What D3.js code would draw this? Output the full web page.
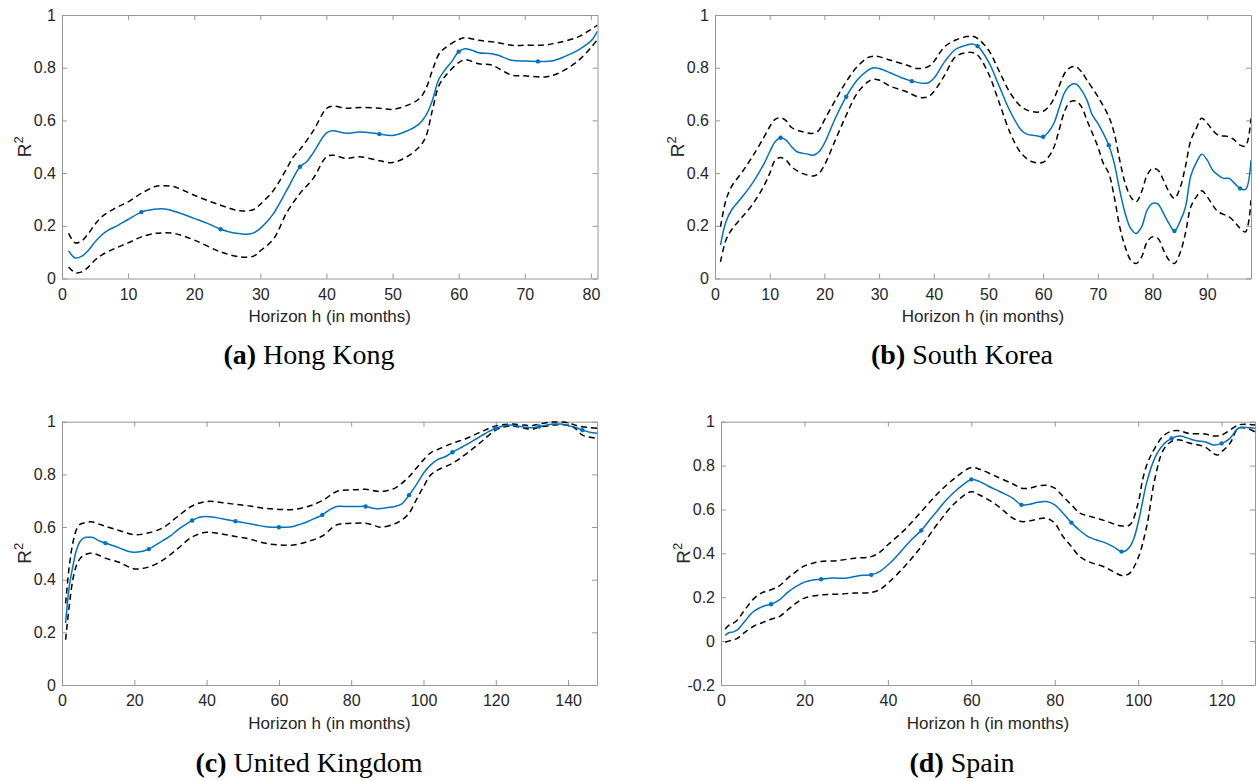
<!DOCTYPE html>
<html>
<head>
<meta charset="utf-8">
<script src="https://cdn.jsdelivr.net/npm/d3@7"></script>
<style>
  html, body { margin: 0; padding: 0; background: #ffffff; }
  svg { display: block; }
</style>
</head>
<body>
<svg id="chart" width="1257" height="781"></svg>
<script>
// ---------------- DATA ----------------
// (a) Hong Kong
const hongKongMeanH = [1,2,3,4,5,6,7,8,10,12,14,15,16,18,20,22,24,26,27,28,29,30,31,32,34,36,37,38,40,41,42,43,45,47,48,50,52,54,55,56,57,58,59,60,61,62,63,65,66,68,70,72,74,76,78,80,81];
const hongKongMean  = [0.105,0.078,0.085,0.107,0.139,0.165,0.184,0.196,0.224,0.252,0.263,0.265,0.262,0.247,0.228,0.209,0.187,0.173,0.170,0.168,0.173,0.190,0.215,0.247,0.335,0.424,0.443,0.477,0.553,0.561,0.556,0.551,0.556,0.552,0.548,0.543,0.558,0.586,0.617,0.674,0.756,0.794,0.825,0.861,0.872,0.866,0.857,0.853,0.847,0.828,0.825,0.824,0.825,0.842,0.866,0.901,0.939];
const hongKongUpperH = [1,2,3,4,5,6,8,10,12,14,15,17,20,24,27,29,30,32,34,35,36,38,40,41,43,45,48,50,52,54,55,56,57,58,60,61,63,66,68,70,73,75,78,80,81];
const hongKongUpper  = [0.171,0.135,0.143,0.171,0.206,0.234,0.266,0.291,0.323,0.348,0.352,0.348,0.316,0.278,0.257,0.262,0.282,0.335,0.418,0.462,0.490,0.560,0.645,0.654,0.646,0.649,0.646,0.642,0.655,0.681,0.718,0.788,0.851,0.876,0.907,0.914,0.904,0.895,0.885,0.885,0.886,0.895,0.916,0.945,0.962];
const hongKongLowerH = [1,2,3,4,5,6,8,10,12,14,15,17,20,24,27,29,30,32,34,36,38,40,41,43,45,48,50,52,54,55,56,57,58,60,61,63,65,68,70,73,75,78,80,81];
const hongKongLower  = [0.044,0.022,0.025,0.044,0.070,0.089,0.114,0.135,0.158,0.171,0.173,0.171,0.146,0.101,0.082,0.085,0.105,0.150,0.250,0.323,0.380,0.462,0.468,0.456,0.462,0.447,0.440,0.460,0.498,0.536,0.636,0.731,0.769,0.819,0.830,0.815,0.810,0.772,0.769,0.765,0.778,0.825,0.876,0.907];

// (b) South Korea
const southKoreaMeanH = [1,2,3,5,7,9,10,11,12,13,14,15,17,18,19,20,22,24,26,28,29,30,32,34,36,38,39,40,42,44,46,47,48,50,52,54,56,57,59,60,61,62,63,64,65,66,67,68,69,70,71,72,73,74,75,76,77,78,79,80,81,82,83,84,85,86,87,88,89,90,91,92,93,94,95,96,97,98];
const southKoreaMean  = [0.127,0.215,0.259,0.310,0.367,0.437,0.481,0.519,0.534,0.525,0.500,0.481,0.472,0.468,0.481,0.513,0.608,0.690,0.753,0.791,0.800,0.797,0.781,0.763,0.749,0.741,0.743,0.759,0.823,0.870,0.886,0.890,0.882,0.823,0.728,0.633,0.563,0.548,0.541,0.538,0.557,0.591,0.652,0.709,0.734,0.738,0.715,0.677,0.620,0.589,0.551,0.506,0.437,0.335,0.247,0.190,0.171,0.196,0.259,0.285,0.282,0.247,0.209,0.180,0.215,0.270,0.390,0.440,0.472,0.449,0.411,0.392,0.380,0.380,0.361,0.342,0.338,0.449];
const southKoreaUpperH = [1,2,3,5,7,9,10,11,12,13,14,16,18,19,20,22,24,26,28,29,30,32,35,37,39,40,42,44,46,47,48,50,52,54,56,58,60,61,62,63,64,65,66,67,68,70,72,73,74,75,76,77,78,79,80,81,82,83,84,85,86,87,88,89,90,91,92,94,95,96,97,98];
const southKoreaUpper  = [0.196,0.297,0.348,0.405,0.468,0.538,0.576,0.604,0.610,0.599,0.573,0.557,0.551,0.563,0.601,0.677,0.747,0.804,0.839,0.844,0.842,0.829,0.810,0.797,0.804,0.823,0.880,0.905,0.918,0.920,0.911,0.867,0.785,0.703,0.652,0.633,0.635,0.652,0.684,0.734,0.781,0.801,0.804,0.785,0.753,0.690,0.614,0.551,0.449,0.361,0.310,0.291,0.329,0.392,0.418,0.411,0.373,0.329,0.304,0.342,0.424,0.525,0.570,0.608,0.589,0.563,0.544,0.538,0.525,0.506,0.503,0.608];
const southKoreaLowerH = [1,2,3,5,7,9,10,11,12,13,14,16,18,19,20,22,24,26,28,29,30,32,35,37,38,39,40,42,44,46,47,48,50,52,54,56,58,60,61,62,63,64,65,66,67,68,70,71,72,73,74,75,76,77,78,79,80,81,82,83,84,85,86,87,88,89,90,91,92,94,95,96,97,98];
const southKoreaLower  = [0.063,0.146,0.184,0.234,0.285,0.354,0.399,0.449,0.459,0.449,0.424,0.399,0.389,0.399,0.430,0.525,0.620,0.703,0.747,0.756,0.753,0.730,0.709,0.690,0.686,0.690,0.709,0.772,0.842,0.857,0.858,0.848,0.778,0.665,0.551,0.475,0.443,0.441,0.462,0.500,0.570,0.639,0.671,0.673,0.652,0.601,0.500,0.437,0.399,0.310,0.196,0.120,0.070,0.057,0.082,0.139,0.158,0.152,0.108,0.070,0.057,0.095,0.171,0.272,0.310,0.333,0.310,0.278,0.253,0.234,0.215,0.190,0.177,0.297];

// (c) United Kingdom
const ukMeanH = [1,2,3,4,5,6,7,8,9,10,12,14,16,18,20,22,24,26,28,30,32,34,36,38,40,42,44,46,48,50,52,54,56,58,60,62,64,66,68,70,72,74,76,78,80,82,84,86,87,88,90,92,94,96,98,100,102,104,106,108,110,112,114,116,118,120,122,124,126,128,130,132,134,136,138,140,142,144,146,148];
const ukMean  = [0.235,0.374,0.450,0.513,0.545,0.558,0.561,0.561,0.558,0.549,0.539,0.530,0.520,0.509,0.504,0.507,0.516,0.532,0.549,0.566,0.589,0.608,0.625,0.637,0.640,0.637,0.632,0.627,0.622,0.617,0.612,0.607,0.602,0.599,0.599,0.599,0.602,0.611,0.621,0.633,0.646,0.665,0.678,0.678,0.678,0.678,0.678,0.671,0.669,0.670,0.674,0.678,0.688,0.721,0.760,0.804,0.836,0.857,0.867,0.884,0.899,0.914,0.930,0.946,0.962,0.975,0.984,0.987,0.984,0.979,0.977,0.982,0.987,0.991,0.991,0.985,0.979,0.968,0.960,0.956];
const ukUpperH = [1,2,3,4,5,6,8,10,12,16,20,24,28,32,36,40,44,48,52,56,60,64,68,72,76,80,84,88,92,94,96,98,100,102,104,108,112,116,120,124,128,130,132,136,140,142,144,148];
const ukUpper  = [0.310,0.450,0.540,0.590,0.610,0.615,0.620,0.612,0.603,0.586,0.571,0.578,0.598,0.640,0.680,0.697,0.693,0.686,0.680,0.671,0.667,0.667,0.678,0.700,0.735,0.741,0.743,0.735,0.747,0.766,0.791,0.823,0.855,0.882,0.895,0.918,0.937,0.962,0.984,0.991,0.987,0.985,0.991,0.999,0.996,0.987,0.981,0.975];
const ukLowerH = [1,2,3,4,5,6,8,10,12,16,20,24,28,32,36,40,44,48,52,56,60,64,68,72,76,80,84,86,88,92,94,96,98,100,102,104,108,112,116,120,124,128,130,132,136,140,142,144,148];
const ukLower  = [0.172,0.300,0.400,0.455,0.480,0.492,0.500,0.494,0.482,0.465,0.441,0.448,0.475,0.518,0.562,0.580,0.574,0.564,0.554,0.539,0.532,0.532,0.545,0.566,0.608,0.614,0.614,0.608,0.599,0.612,0.627,0.652,0.703,0.753,0.798,0.817,0.842,0.880,0.924,0.968,0.984,0.975,0.971,0.979,0.987,0.987,0.975,0.949,0.937];

// (d) Spain
const spainMeanH = [1,2,3,4,5,6,7,8,10,12,14,16,18,20,22,24,26,28,30,32,34,36,38,40,42,44,46,48,50,52,54,56,58,60,62,64,66,68,70,72,74,76,78,80,82,84,86,88,90,92,94,96,97,98,99,100,101,102,104,106,108,110,112,114,116,118,120,122,124,126,128];
const spainMean  = [0.026,0.039,0.042,0.052,0.074,0.097,0.120,0.138,0.158,0.168,0.188,0.222,0.249,0.269,0.279,0.282,0.287,0.287,0.287,0.294,0.300,0.302,0.317,0.347,0.385,0.428,0.469,0.504,0.552,0.598,0.643,0.681,0.712,0.737,0.727,0.707,0.689,0.671,0.651,0.621,0.624,0.633,0.636,0.621,0.583,0.540,0.504,0.476,0.461,0.449,0.431,0.408,0.412,0.430,0.470,0.540,0.630,0.720,0.835,0.895,0.924,0.935,0.924,0.913,0.909,0.894,0.901,0.924,0.970,0.974,0.970];
const spainUpperH = [1,2,3,4,5,6,8,10,12,14,16,18,20,22,24,28,32,36,38,40,44,48,52,56,60,62,66,70,72,74,76,78,80,82,84,86,88,92,96,98,100,101,102,103,104,106,108,110,112,116,118,120,122,124,126,128];
const spainUpper  = [0.055,0.074,0.082,0.097,0.124,0.150,0.196,0.222,0.234,0.252,0.287,0.317,0.343,0.355,0.363,0.367,0.378,0.385,0.404,0.439,0.507,0.590,0.674,0.742,0.791,0.783,0.750,0.716,0.697,0.697,0.707,0.710,0.697,0.659,0.621,0.583,0.571,0.549,0.525,0.530,0.630,0.730,0.800,0.845,0.880,0.935,0.957,0.959,0.947,0.944,0.935,0.939,0.962,0.985,0.988,0.985];
const spainLowerH = [1,2,3,4,5,6,8,10,12,14,16,18,20,24,28,32,36,38,40,44,48,52,56,60,62,66,70,72,74,78,80,82,84,86,88,92,94,96,97,98,100,102,104,106,108,110,112,116,118,119,120,122,124,126,128];
const spainLower  = [-0.005,0.001,0.006,0.014,0.029,0.044,0.070,0.085,0.100,0.112,0.143,0.173,0.196,0.211,0.214,0.219,0.222,0.234,0.264,0.340,0.431,0.537,0.628,0.681,0.666,0.621,0.560,0.545,0.548,0.560,0.537,0.476,0.431,0.385,0.363,0.337,0.317,0.299,0.301,0.310,0.380,0.520,0.740,0.870,0.910,0.917,0.904,0.885,0.856,0.848,0.863,0.901,0.970,0.970,0.954];

// Tick values and labels
const xTicksHongKong   = [0,10,20,30,40,50,60,70,80];
const xTicksSouthKorea = [0,10,20,30,40,50,60,70,80,90];
const xTicksUK         = [0,20,40,60,80,100,120,140];
const xTicksSpain      = [0,20,40,60,80,100,120];
const yTicksStandard   = [0,0.2,0.4,0.6,0.8,1];
const yTicksSpain      = [-0.2,0,0.2,0.4,0.6,0.8,1];
const xAxisTitle = "Horizon h (in months)";
const captionLetters = ["(a)","(b)","(c)","(d)"];
const captionNames   = ["Hong Kong","South Korea","United Kingdom","Spain"];
const markerEvery = 12;

// ---------------- LAYOUT ----------------
const panels = [
  { mean:[hongKongMeanH,hongKongMean], upper:[hongKongUpperH,hongKongUpper], lower:[hongKongLowerH,hongKongLower],
    xDomain:[0,81], yDomain:[0,1], xTicks:xTicksHongKong, yTicks:yTicksStandard,
    box:{l:62,r:597.5,t:15,b:278.5}, cap:{x:309,y:364} },
  { mean:[southKoreaMeanH,southKoreaMean], upper:[southKoreaUpperH,southKoreaUpper], lower:[southKoreaLowerH,southKoreaLower],
    xDomain:[0,98], yDomain:[0,1], xTicks:xTicksSouthKorea, yTicks:yTicksStandard,
    box:{l:715,r:1251,t:15,b:278.5}, cap:{x:962,y:364} },
  { mean:[ukMeanH,ukMean], upper:[ukUpperH,ukUpper], lower:[ukLowerH,ukLower],
    xDomain:[0,148], yDomain:[0,1], xTicks:xTicksUK, yTicks:yTicksStandard,
    box:{l:62,r:597,t:421.7,b:685}, cap:{x:309,y:772} },
  { mean:[spainMeanH,spainMean], upper:[spainUpperH,spainUpper], lower:[spainLowerH,spainLower],
    xDomain:[0,128], yDomain:[-0.2,1], xTicks:xTicksSpain, yTicks:yTicksSpain,
    box:{l:721,r:1255,t:421.7,b:685}, cap:{x:962,y:772} }
];

const BLUE = "#0072BD";
const AXIS = "#969696";
const TEXT = "#262626";
const SANS = "'Liberation Sans', Arial, Helvetica, sans-serif";
const SERIF = "'Liberation Serif', 'Times New Roman', serif";

const svg = d3.select("#chart");
const fmt = d => String(+(+d).toFixed(1));

function pairs(arr) {
  const [h, v] = arr;
  const n = Math.min(h.length, v.length);
  return d3.range(n).map(i => ({h: h[i], v: v[i]}));
}

panels.forEach((p, i) => {
  const b = p.box;
  const x = d3.scaleLinear().domain(p.xDomain).range([b.l, b.r]);
  const y = d3.scaleLinear().domain(p.yDomain).range([b.b, b.t]);
  const g = svg.append("g");

  const clipId = "clip" + i;
  g.append("clipPath").attr("id", clipId).append("rect")
    .attr("x", b.l).attr("y", b.t - 1).attr("width", b.r - b.l).attr("height", b.b - b.t + 2);

  // axes with inward ticks on all four sides
  const styleAxis = sel => {
    sel.attr("font-family", null).attr("font-size", null);
    sel.selectAll("path.domain").attr("stroke", AXIS).attr("stroke-width", 1);
    sel.selectAll(".tick line").attr("stroke", AXIS).attr("stroke-width", 1);
    sel.selectAll(".tick text").attr("fill", TEXT).style("font-family", SANS).style("font-size", "16px");
  };
  g.append("g").attr("transform", `translate(0,${b.b})`)
    .call(d3.axisBottom(x).tickValues(p.xTicks).tickFormat(fmt).tickSize(-5).tickSizeOuter(0).tickPadding(10))
    .call(styleAxis);
  g.append("g").attr("transform", `translate(0,${b.t})`)
    .call(d3.axisTop(x).tickValues(p.xTicks).tickFormat("").tickSize(-5).tickSizeOuter(0))
    .call(styleAxis);
  g.append("g").attr("transform", `translate(${b.l},0)`)
    .call(d3.axisLeft(y).tickValues(p.yTicks).tickFormat(fmt).tickSize(-5).tickSizeOuter(0).tickPadding(6))
    .call(styleAxis);
  g.append("g").attr("transform", `translate(${b.r},0)`)
    .call(d3.axisRight(y).tickValues(p.yTicks).tickFormat("").tickSize(-5).tickSizeOuter(0))
    .call(styleAxis);

  const line = d3.line().x(d => x(d.h)).y(d => y(d.v)).curve(d3.curveCatmullRom.alpha(0.5));
  const plot = g.append("g").attr("clip-path", `url(#${clipId})`);

  [p.upper, p.lower].forEach(s => {
    plot.append("path").datum(pairs(s))
      .attr("d", line).attr("fill", "none")
      .attr("stroke", "#000").attr("stroke-width", 1.5)
      .attr("stroke-dasharray", "6,4");
  });
  const meanData = pairs(p.mean);
  plot.append("path").datum(meanData)
    .attr("d", line).attr("fill", "none")
    .attr("stroke", BLUE).attr("stroke-width", 1.5);
  plot.selectAll("circle.mk").data(meanData.filter(d => d.h % markerEvery === 0))
    .join("circle").attr("class", "mk")
    .attr("cx", d => x(d.h)).attr("cy", d => y(d.v)).attr("r", 2.2)
    .attr("fill", BLUE);

  // x-axis title
  g.append("text")
    .attr("x", (b.l + b.r) / 2).attr("y", b.b + 43.5)
    .attr("text-anchor", "middle")
    .attr("fill", TEXT).style("font-family", SANS).style("font-size", "17px")
    .text(xAxisTitle);

  // y-axis title R^2
  const yl = g.append("text")
    .attr("transform", `translate(${b.l - 31},${(b.t + b.b) / 2}) rotate(-90)`)
    .attr("text-anchor", "middle")
    .attr("fill", TEXT).style("font-family", SANS).style("font-size", "19px");
  yl.append("tspan").text("R");
  yl.append("tspan").attr("dy", "-8").style("font-size", "13px").text("2");

  // caption
  const cap = g.append("text")
    .attr("x", p.cap.x).attr("y", p.cap.y)
    .attr("text-anchor", "middle")
    .attr("fill", "#000").style("font-family", SERIF).style("font-size", "28px");
  cap.append("tspan").attr("font-weight", "bold").text(captionLetters[i]);
  cap.append("tspan").text("\u00A0" + captionNames[i]);
});
</script>
</body>
</html>
